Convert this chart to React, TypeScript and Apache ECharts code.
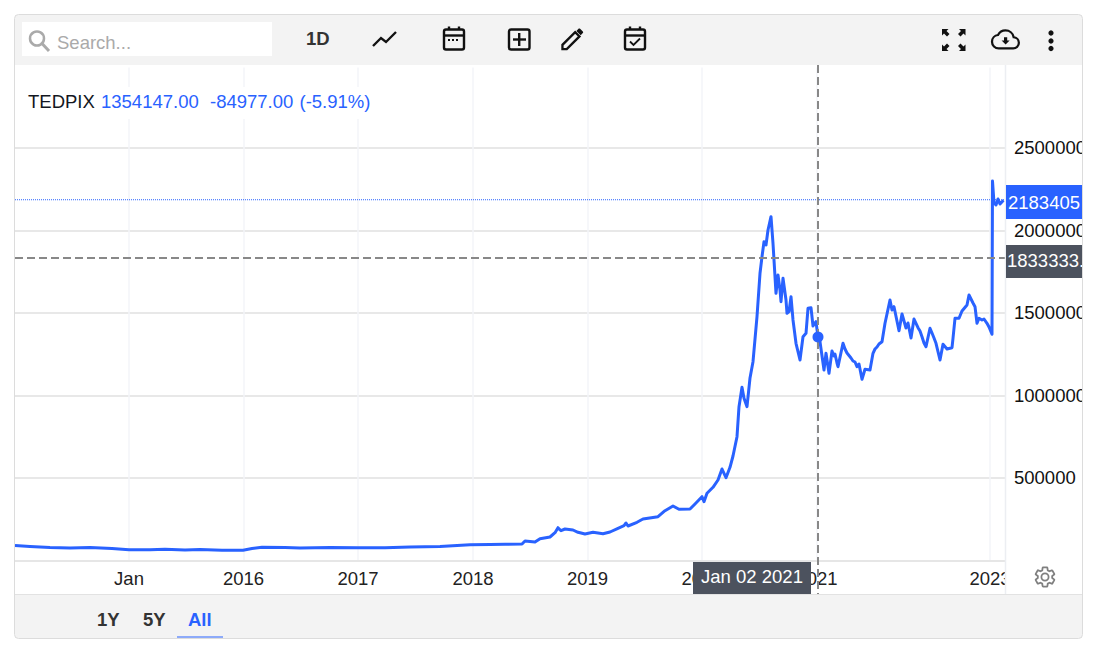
import React, { useEffect, useRef } from "react";
import * as echarts from "echarts";

// Session number along the (gappy) trading-time axis, and the TEDPIX close.
const sessions = [0,15,35,55,75,97,114,135,150,170,185,207,228,237,247,270,285,315,343,370,395,425,455,475,490,507,510,520,525,535,540,543,546,550,558,563,570,578,588,595,603,609,611,613,622,628,643,650,658,664,675,680,687,689,692,698,703,707,711,715,718,722,724,727,729,732,735,738,742,745,747,749,751,753,756,758,761,763,765,766,768,771,772,774,776,778,781,785,788,791,793,796,798,801,803,805,809,811,814,817,819,820,822,823,828,830,832,835,836,838,840,842,844,847,850,855,858,860,862,864,867,870,875,877,879,884,887,891,893,896,899,903,905,907,909,911,915,917,919,921,925,928,932,937,938,940,944,947,952,954,956,958,960,962,964,967,969,972,974,977,977.5,979,981,983,985,988.5];
const tedpix = [90900,84800,78800,75800,78800,72700,64800,64800,68500,63600,66700,62400,62400,72700,80600,78800,75800,78800,77000,77000,81800,84800,95100,97000,98000,100000,118200,112100,132100,142400,168500,198800,180600,190900,184800,170900,160600,170900,162400,172700,195200,210900,227300,209100,231500,251500,265500,301800,330300,310300,312100,342400,386700,356400,407300,443600,487900,554500,501800,564800,633300,750300,932100,1049700,983000,932100,1106000,1204800,1477600,1740600,1841200,1932100,1912100,2003000,2083600,1922400,1619400,1730300,1639400,1568500,1710300,1578800,1498200,1507900,1598800,1457600,1316400,1215100,1356400,1377000,1528500,1532100,1421200,1447300,1354147,1326100,1154500,1255800,1134500,1269700,1239400,1251500,1197000,1174500,1316400,1281800,1257600,1235100,1227300,1209100,1203000,1174500,1190900,1098200,1158800,1154500,1255700,1281800,1293900,1312100,1326100,1437600,1578800,1518200,1538200,1392700,1493900,1409100,1439400,1348500,1463600,1410900,1390900,1356400,1318200,1295800,1407300,1378800,1348500,1316400,1215100,1310300,1281800,1289700,1346700,1467900,1467900,1512100,1548500,1609100,1584800,1560600,1538200,1437600,1467900,1457600,1463600,1437600,1415100,1370900,2300000,2166700,2154500,2190900,2160600,2183405];

const xTickSessions = [114, 228.5, 343, 458, 572.5, 687, 802, 975];
const xTickLabels = ["Jan", "2016", "2017", "2018", "2019", "2020", "2021", "2023"];
const yTicks = [500000, 1000000, 1500000, 2000000, 2500000];
const lastPrice = 2183405;
const crossSession = 803;
const crossPrice = 1833333.33;
const hoverPrice = 1354147;
const hoverDate = "Jan 02 2021";
const symbolName = "TEDPIX";
const legendClose = "1354147.00";
const legendChange = "-84977.00";
const legendPct = "(-5.91%)";
const ranges = ["1Y", "5Y", "All"];

const BLUE = "#2962ff";
const FONT = "Arial, 'Liberation Sans', sans-serif";
const SIZE = 18.5;

const GEAR = "M19.14 12.94c.04-.3.06-.61.06-.94 0-.32-.02-.64-.07-.94l2.03-1.58c.18-.14.23-.41.12-.61l-1.92-3.32c-.12-.22-.37-.29-.59-.22l-2.39.96c-.5-.38-1.03-.7-1.62-.94l-.36-2.54c-.04-.24-.24-.41-.48-.41h-3.84c-.24 0-.43.17-.47.41l-.36 2.54c-.59.24-1.13.57-1.62.94l-2.39-.96c-.22-.08-.47 0-.59.22L2.74 8.87c-.12.21-.08.47.12.61l2.03 1.58c-.05.3-.09.63-.09.94s.02.64.07.94l-2.03 1.58c-.18.14-.23.41-.12.61l1.92 3.32c.12.22.37.29.59.22l2.39-.96c.5.38 1.03.7 1.62.94l.36 2.54c.05.24.24.41.48.41h3.84c.24 0 .44-.17.47-.41l.36-2.54c.59-.24 1.13-.56 1.62-.94l2.39.96c.22.08.47 0 .59-.22l1.92-3.32c.12-.22.07-.47-.12-.61l-2.01-1.58zM12 15.6c-1.98 0-3.6-1.62-3.6-3.6s1.62-3.6 3.6-3.6 3.6 1.62 3.6 3.6-1.62 3.6-3.6 3.6z";
const CLOUD = "M19.35 10.04C18.67 6.59 15.64 4 12 4 9.11 4 6.6 5.64 5.35 8.04 2.34 8.36 0 10.91 0 14c0 3.31 2.69 6 6 6h13c2.76 0 5-2.24 5-5 0-2.64-2.05-4.78-4.65-4.96z";
const CLOUD_ARROW = "M17 13l-5 5-5-5h3V9h4v4h3z";
const PENCIL_BODY = "M3 17.25V21h3.75L17.81 9.94l-3.75-3.75L3 17.25z";
const PENCIL_TOP = "M20.71 7.04c.39-.39.39-1.02 0-1.41l-2.34-2.34c-.39-.39-1.02-.39-1.41 0l-1.83 1.83 3.75 3.75 1.83-1.83z";

let registered = false;
function registerShapes() {
  if (registered) return;
  registered = true;
  const reg = (n: string, d: string) => echarts.graphic.registerShape(n, (echarts.graphic as any).extendPath(d, {}));
  reg("gearIcon", GEAR);
  reg("cloudIcon", CLOUD);
  reg("cloudArrow", CLOUD_ARROW);
  reg("pencilBody", PENCIL_BODY);
  reg("pencilTop", PENCIL_TOP);
}

const txt = (x: number, y: number, text: string, fill: string, font = `${SIZE}px ${FONT}`, align = "left") => ({
  type: "text", x, y, z: 110,
  style: { text, fill, font, textAlign: align, textVerticalAlign: "middle" },
});
const box = (x: number, y: number, w: number, h: number, fill: string, z = 100) => ({
  type: "rect", z, silent: true, shape: { x, y, width: w, height: h }, style: { fill },
});
const seg = (x1: number, y1: number, x2: number, y2: number, stroke = "#111", lineWidth = 2.4, z = 110, lineDash?: number[]) => ({
  type: "line", z, silent: true, shape: { x1, y1, x2, y2 }, style: { stroke, lineWidth, lineDash, lineCap: "butt" },
});
const calendar = (x: number) => [
  { type: "rect", z: 110, shape: { x: x + 1, y: 29.5, width: 20, height: 20, r: 2 }, style: { fill: "none", stroke: "#111", lineWidth: 2.4 } },
  seg(x + 1, 35.5, x + 21, 35.5),
  seg(x + 6, 26.5, x + 6, 30),
  seg(x + 16, 26.5, x + 16, 30),
];
const cornerArrow = (cx: number, cy: number, dx: number, dy: number) => ({
  type: "polygon", z: 110, shape: { points: [[cx, cy], [cx + dx * 6.5, cy], [cx + dx * 4.5, cy + dy * 2], [cx + dx * 7.5, cy + dy * 5], [cx + dx * 5, cy + dy * 7.5], [cx + dx * 2, cy + dy * 4.5], [cx, cy + dy * 6.5]] },
  style: { fill: "#111" },
});

export default function App() {
  const ref = useRef<HTMLDivElement>(null);
  useEffect(() => {
    registerShapes();
    const chart = echarts.init(ref.current!, undefined, { renderer: "svg" });
    const option: any = {
      animation: false,
      backgroundColor: "#ffffff",
      grid: { left: 15, top: 65, width: 990, height: 495.5, containLabel: false },
      xAxis: {
        type: "value", min: 0, max: 990,
        axisLine: { show: true, onZero: false, lineStyle: { color: "#e6e6e6", width: 2 } },
        axisTick: { show: false, customValues: xTickSessions },
        axisLabel: {
          customValues: xTickSessions, color: "#222", fontFamily: FONT, fontSize: SIZE, margin: 8, hideOverlap: false,
          formatter: (v: number) => xTickLabels[xTickSessions.indexOf(v)] ?? "",
        },
        splitLine: { show: true, lineStyle: { color: "#f3f5f9", width: 1.5 } },
      },
      yAxis: {
        type: "value", position: "right", min: 0, max: 3003000, interval: 500000,
        axisLine: { show: false },
        axisTick: { show: true, length: 5, lineStyle: { color: "#e6e6e6", width: 2 } },
        axisLabel: {
          color: "#111", fontFamily: FONT, fontSize: SIZE, margin: 9,
          formatter: (v: number) => (yTicks.includes(v) ? String(v) : ""),
        },
        splitLine: { show: true, lineStyle: { color: "#e8e8e8", width: 2 } },
      },
      series: [
        {
          type: "line", name: symbolName, showSymbol: false, smooth: false, clip: false, z: 2,
          data: sessions.map((s, i) => [s, tedpix[i]]),
          lineStyle: { color: BLUE, width: 3, join: "round" },
        },
        {
          type: "scatter", symbolSize: 11, itemStyle: { color: BLUE, opacity: 1 }, data: [[crossSession, hoverPrice]], z: 5,
        },
      ],
    };
    chart.setOption(option);

    const [cx] = chart.convertToPixel({ gridIndex: 0 }, [crossSession, 0]) as number[];
    const cy = (chart.convertToPixel({ gridIndex: 0 }, [0, crossPrice]) as number[])[1];
    const py = (chart.convertToPixel({ gridIndex: 0 }, [0, lastPrice]) as number[])[1];

    chart.setOption({
      graphic: [
        // hide the 3000000 grid line that would touch the toolbar
        box(15, 65, 1067, 2.5, "#ffffff", 1),
        // last-price line
        seg(15, py - 0.5, 1005, py - 0.5, BLUE, 1, 3, [1, 1]),
        // crosshair (under the hover dot, over the line)
        seg(cx, 65, cx, 595, "#888", 2, 3, [8, 4]),
        seg(15, cy, 1005, cy, "#888", 2, 3, [8, 4]),
        // right pane separators and clipping panels
        box(1005, 561.5, 78, 33.5, "#ffffff", 70),
        seg(1005.5, 65, 1005.5, 595, "#eceef2", 1.5, 71),
        // chrome
        box(15, 15, 1067, 50, "#f3f3f3"),
        box(15, 595, 1067, 43, "#f3f3f3"),
        seg(15, 594.5, 1082, 594.5, "#e2e2e2", 1, 101),
        box(22, 22, 250, 34, "#ffffff", 101),
        // legend
        box(22, 87, 354, 32, "#ffffff", 90),
        txt(28, 101, symbolName, "#131722"),
        txt(101, 101, legendClose, BLUE),
        txt(210, 101, legendChange, BLUE),
        txt(299.5, 101, legendPct, BLUE),
        // search
        { type: "circle", z: 110, shape: { cx: 37, cy: 38.5, r: 7 }, style: { fill: "none", stroke: "#aaa", lineWidth: 2.5 } },
        seg(42, 43.5, 49, 51, "#aaa", 3),
        txt(57, 42.5, "Search...", "#aaa"),
        txt(306, 38.5, "1D", "#333", `bold ${SIZE}px ${FONT}`),
        // line-chart icon
        { type: "polyline", z: 110, shape: { points: [[373, 46], [381, 38], [386, 42], [396, 32]] }, style: { fill: "none", stroke: "#111", lineWidth: 2.4 } },
        // calendar
        ...calendar(443),
        seg(448, 40, 460, 40, "#111", 2, 110, [2, 2]),
        // plus box
        { type: "rect", z: 110, shape: { x: 509, y: 29.5, width: 20.5, height: 20, r: 2 }, style: { fill: "none", stroke: "#111", lineWidth: 2.4 } },
        seg(519.2, 33, 519.2, 46),
        seg(513, 39.5, 526, 39.5),
        // pencil
        { type: "pencilBody", z: 110, x: 559, y: 25, scaleX: 1.15, scaleY: 1.15, style: { fill: "none", stroke: "#111", lineWidth: 2 } },
        { type: "pencilTop", z: 110, x: 559, y: 25, scaleX: 1.15, scaleY: 1.15, style: { fill: "#111" } },
        // calendar with tick
        ...calendar(624),
        { type: "polyline", z: 110, shape: { points: [[630, 41.5], [633.5, 45], [640, 38.5]] }, style: { fill: "none", stroke: "#111", lineWidth: 1.8 } },
        // fullscreen
        cornerArrow(942, 29, 1, 1),
        cornerArrow(965.5, 29, -1, 1),
        cornerArrow(942, 51, 1, -1),
        cornerArrow(965.5, 51, -1, -1),
        // cloud download
        { type: "cloudIcon", z: 110, x: 992, y: 26, scaleX: 1.12, scaleY: 1.12, style: { fill: "none", stroke: "#111", lineWidth: 2 } },
        { type: "cloudArrow", z: 110, x: 996, y: 30, scaleX: 0.8, scaleY: 0.8, style: { fill: "#111" } },
        // kebab
        { type: "circle", z: 110, shape: { cx: 1051, cy: 33, r: 2.6 }, style: { fill: "#111" } },
        { type: "circle", z: 110, shape: { cx: 1051, cy: 41, r: 2.6 }, style: { fill: "#111" } },
        { type: "circle", z: 110, shape: { cx: 1051, cy: 48.5, r: 2.6 }, style: { fill: "#111" } },
        // gear
        { type: "gearIcon", z: 110, x: 1033, y: 565, style: { fill: "none", stroke: "#808080", lineWidth: 1.8 } },
        // price tags
        box(1006, 185, 77, 34, BLUE, 95),
        txt(1008, py + 2, String(lastPrice), "#ffffff"),
        box(1006, cy - 13, 77, 33, "#4c525e", 95),
        txt(1007, cy + 2.5, crossPrice.toFixed(2), "#ffffff"),
        // date tag
        box(cx - 125, 562, 118, 32, "#4c525e", 95),
        txt(cx - 66, 576.5, hoverDate, "#ffffff", `${SIZE}px ${FONT}`, "center"),
        // bottom ranges
        txt(97, 619, ranges[0], "#333", `bold ${SIZE}px ${FONT}`),
        txt(143, 619, ranges[1], "#333", `bold ${SIZE}px ${FONT}`),
        txt(188, 619, ranges[2], BLUE, `bold ${SIZE}px ${FONT}`),
        seg(177, 637, 223, 637, BLUE, 1.2, 110),
        // page margin and frame on top
        box(1083, 0, 20, 647, "#ffffff", 120),
        box(0, 0, 14, 647, "#ffffff", 120),
        { type: "rect", z: 125, silent: true, shape: { x: 14.5, y: 14.5, width: 1068, height: 624, r: 4 }, style: { fill: "none", stroke: "#dcdcdc", lineWidth: 1 } },
      ],
    });
    return () => chart.dispose();
  }, []);
  return <div ref={ref} style={{ position: "absolute", left: 0, top: 0, width: 1103, height: 647 }} />;
}
